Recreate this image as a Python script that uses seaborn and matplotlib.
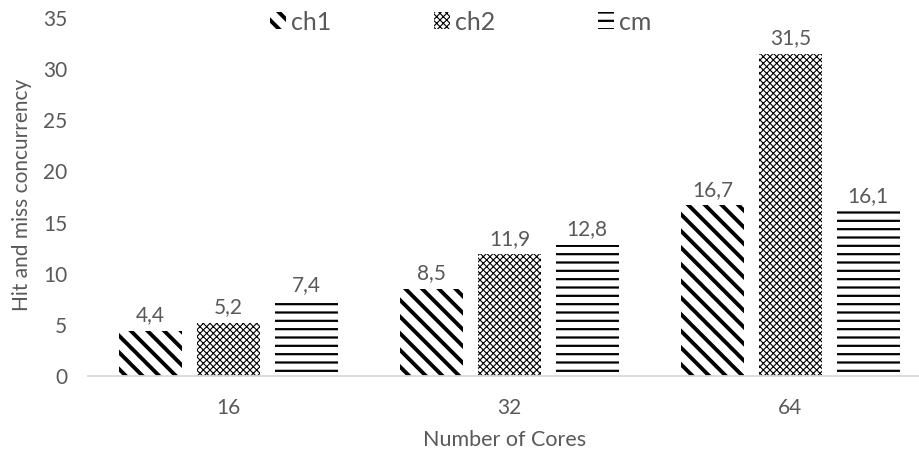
import matplotlib
matplotlib.use("Agg")
import matplotlib.pyplot as plt
from matplotlib.patches import Patch
import seaborn as sns
import pandas as pd

cores = ["16", "32", "64"]
series = ["ch1", "ch2", "cm"]
ch1 = [4.4, 8.5, 16.7]
ch2 = [5.2, 11.9, 31.5]
cm = [7.4, 12.8, 16.1]
yticks = [0, 5, 10, 15, 20, 25, 30, 35]

hatches = {"ch1": "\\\\", "ch2": "xxxxx", "cm": "--"}
hatch_lw = {"ch1": 2.8, "ch2": 0.8, "cm": 1.6}

df = pd.DataFrame({
    "cores": cores * 3,
    "series": [s for s in series for _ in cores],
    "value": ch1 + ch2 + cm,
})

sns.set_theme(style="white")
plt.rcParams["font.family"] = ["Lato", "DejaVu Sans"]
text_gray = "#595959"

fig = plt.figure(figsize=(9.2, 4.57), dpi=100)
ax = fig.add_axes([88 / 920, 1 - 376 / 457, (931 - 88) / 920, (376 - 18) / 457])

sns.barplot(data=df, x="cores", y="value", hue="series", order=cores,
            hue_order=series, palette=["white"] * 3, width=0.83, gap=0.19,
            edgecolor="black", linewidth=0, legend=False, ax=ax, errorbar=None)

for cont, name in zip(ax.containers, series):
    for bar in cont:
        bar.set_hatch(hatches[name])
        bar.set_edgecolor("black")
        bar.set_linewidth(0)
        if hasattr(bar, "set_hatch_linewidth"):
            bar.set_hatch_linewidth(hatch_lw[name])
    vals = [b.get_height() for b in cont]
    ax.bar_label(cont, labels=[f"{v:.1f}".replace(".", ",") for v in vals],
                 padding=4, fontsize=15, color=text_gray)

ax.set_xlim(-0.5, 2.5)
ax.set_ylim(0, 35)
ax.set_yticks(yticks)
ax.set_yticklabels([str(t) for t in yticks])
ax.tick_params(axis="both", length=0, labelsize=15, labelcolor=text_gray)
ax.tick_params(axis="x", pad=16)
ax.tick_params(axis="y", pad=15)
for s in ["top", "right", "left"]:
    ax.spines[s].set_visible(False)
ax.spines["bottom"].set_color("#d9d9d9")
ax.spines["bottom"].set_linewidth(1.3)
ax.grid(False)

ax.set_xlabel("")
ax.set_ylabel("")
fig.text(22 / 920, 1 - 195 / 457, "Hit and miss concurrency", rotation=90,
         ha="center", va="center", fontsize=15, color=text_gray)
fig.text(505 / 920, 1 - 440 / 457, "Number of Cores", ha="center",
         va="center", fontsize=15.5, color=text_gray)

handles = []
for name in series:
    h = Patch(facecolor="white", edgecolor="black", linewidth=0,
              hatch=hatches[name], label=name)
    handles.append(h)
leg = fig.legend(handles=handles, loc="center", ncol=3, frameon=False,
                 bbox_to_anchor=(461 / 920, 1 - 22 / 457), fontsize=18,
                 handlelength=0.65, handleheight=0.65, handletextpad=0.2,
                 columnspacing=4.1, labelcolor=text_gray)
for p, name in zip(leg.get_patches(), series):
    p.set_hatch(hatches[name])
    p.set_edgecolor("black")
    if hasattr(p, "set_hatch_linewidth"):
        p.set_hatch_linewidth(hatch_lw[name])

fig.savefig("out.png", dpi=100)
